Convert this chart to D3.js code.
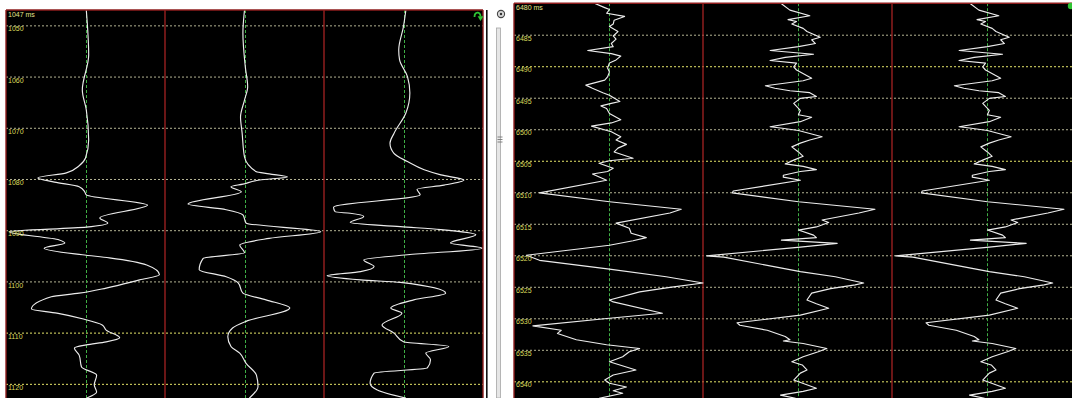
<!DOCTYPE html>
<html>
<head>
<meta charset="utf-8">
<script src="https://cdn.jsdelivr.net/npm/d3@7"></script>
<style>
  html, body { margin: 0; padding: 0; background: #fff; overflow: hidden; }
  svg { display: block; }
</style>
</head>
<body>
<svg id="view" width="1072" height="398"></svg>
<script>
// ---- Trace data: [time in ms, normalised amplitude] ----
// Window 1 (1047 ms onwards), three traces
const traceA1 = [[1047.0,0.01],[1055.8,0.04],[1062.6,-0.04],[1066.5,0.01],[1072.4,0.04],[1075.9,0],[1077.4,-0.08],[1078.8,-0.24],[1079.8,-0.60],[1080.6,-0.39],[1081.5,-0.08],[1082.5,-0.01],[1083.1,0.01],[1085.1,0.78],[1087.6,0.18],[1088.6,0.28],[1089.4,0.01],[1090.3,-0.96],[1091.9,-0.33],[1092.5,-0.26],[1093.5,-0.52],[1094.8,-0.04],[1095.4,0.30],[1096.8,0.77],[1098.7,0.93],[1099.7,0.68],[1101.3,0.26],[1102.3,-0.08],[1103.0,-0.43],[1105.4,-0.68],[1106.2,-0.36],[1107.3,-0.04],[1108.5,0.21],[1109.5,0.26],[1111.0,0.43],[1111.8,0.26],[1112.4,0.01],[1113.0,-0.14],[1114.4,-0.08],[1116.7,-0.05],[1118.3,0.14],[1120.2,0.11],[1121.6,0.14],[1122.8,0.01]];
const traceA2 = [[1047.0,0],[1051.5,-0.02],[1058.1,0.01],[1062.0,0.04],[1064.6,0],[1067.9,-0.05],[1071.0,-0.03],[1075.7,0],[1078.6,0.15],[1079.0,0.31],[1079.6,0.54],[1080.2,0.19],[1081.0,-0.02],[1081.5,-0.17],[1082.5,-0.04],[1084.9,-0.71],[1086.0,-0.23],[1087.0,-0.02],[1088.6,0.02],[1090.3,0.96],[1091.6,0.31],[1092.9,-0.06],[1094.4,0],[1095.5,-0.52],[1097.7,-0.57],[1099.1,-0.23],[1100.3,-0.08],[1102.3,-0.02],[1103.6,0.27],[1105.2,0.57],[1107.8,0.02],[1109.1,-0.15],[1110.8,-0.21],[1112.7,-0.17],[1114.0,-0.06],[1116.0,0.02],[1118.3,0.15],[1120.5,0.17],[1122.8,0.06]];
const traceA3 = [[1047.0,0.03],[1050.2,0],[1054.8,-0.06],[1056.7,-0.05],[1060.0,0.05],[1063.2,0.08],[1067.1,0.03],[1071.1,-0.12],[1073.0,-0.17],[1075.0,-0.12],[1076.6,0.05],[1078.2,0.26],[1079.2,0.47],[1080.2,0.76],[1081.2,0.51],[1082.0,0.17],[1083.1,0.21],[1085.5,-0.88],[1086.4,-0.86],[1086.7,-0.67],[1087.3,-0.50],[1088.5,-0.67],[1089.3,-0.04],[1089.9,0.47],[1090.9,0.91],[1092.5,0.59],[1093.5,0.99],[1094.8,0.05],[1095.8,-0.50],[1097.1,-0.37],[1098.1,-0.54],[1098.9,-0.96],[1099.7,-0.54],[1100.2,-0.04],[1102.3,0.53],[1103.6,0.13],[1105.2,-0.16],[1106.2,-0.02],[1108.5,-0.27],[1110.1,-0.12],[1111.8,0],[1112.7,0.57],[1114.0,0.28],[1115.3,0.34],[1116.9,0.30],[1117.9,-0.37],[1119.9,-0.42],[1121.2,-0.33],[1122.8,0.03]];

// Window 2 (6480 ms onwards); second and third traces carry the same samples
const traceB1 = [[6480.0,-0.15],[6480.7,-0.04],[6481.0,0.01],[6481.6,-0.02],[6482.1,0.17],[6482.7,0.06],[6483.3,0.05],[6483.7,0.01],[6484.5,0.10],[6485.2,0.05],[6485.7,0.08],[6486.4,0.03],[6486.9,0.05],[6487.5,-0.22],[6488.0,0.03],[6488.4,0.13],[6489.0,0.08],[6489.5,0.01],[6490.3,-0.01],[6490.9,0.01],[6491.7,-0.01],[6492.2,-0.04],[6493.0,-0.24],[6493.5,-0.17],[6494.2,-0.06],[6494.6,0.01],[6495.6,0.12],[6495.9,0.03],[6496.3,-0.08],[6496.7,-0.02],[6497.5,0.01],[6498.5,0.13],[6499.0,0.03],[6499.5,-0.18],[6500.4,0.03],[6501.2,0.13],[6501.7,0.08],[6502.4,0.19],[6503.0,0.10],[6503.6,0.06],[6504.6,0.26],[6505.0,0.01],[6505.4,-0.10],[6506.2,0.05],[6506.7,-0.01],[6507.1,-0.17],[6508.1,-0.02],[6510.1,-0.73],[6511.5,0.01],[6512.7,0.77],[6513.3,0.65],[6514.9,0.08],[6515.7,0.22],[6516.5,0.24],[6517.2,0.40],[6517.7,0.26],[6518.4,0.01],[6520.0,-0.87],[6520.8,-0.73],[6522.2,0.01],[6523.4,0.61],[6524.4,1.00],[6525.1,0.65],[6525.8,0.33],[6527.1,0.01],[6527.4,0.05],[6529.2,0.57],[6530.0,0.01],[6531.2,-0.80],[6531.9,-0.50],[6532.4,-0.54],[6533.4,-0.34],[6534.2,-0.02],[6534.8,0.33],[6535.3,0.22],[6536.1,0.15],[6536.9,0.01],[6538.2,0.29],[6539.0,0.05],[6539.8,-0.04],[6540.3,0.01],[6540.9,0.19],[6541.5,0.05],[6541.9,0.15],[6542.7,-0.10]];
const traceB2 = [[6480.1,-0.17],[6481.1,-0.08],[6482.0,0.13],[6482.6,-0.10],[6482.9,-0.01],[6483.3,-0.06],[6484.0,0.06],[6484.5,0.10],[6485.4,0.24],[6485.8,0.15],[6486.4,0.19],[6486.9,0.01],[6487.5,-0.29],[6488.1,0.17],[6488.6,-0.13],[6489.1,-0.29],[6489.5,-0.01],[6490.1,-0.04],[6490.6,-0.01],[6491.9,0.15],[6492.3,0.06],[6493.1,-0.34],[6493.5,-0.24],[6493.9,-0.08],[6494.2,0.13],[6494.8,0.20],[6495.1,0.03],[6495.9,-0.04],[6497.0,0.03],[6497.7,0.01],[6498.1,0.15],[6498.8,0.03],[6499.6,-0.29],[6499.8,-0.18],[6500.2,0.01],[6501.2,0.26],[6501.7,0.13],[6502.2,0.03],[6502.8,-0.06],[6503.6,0.01],[6504.3,0.06],[6504.9,-0.04],[6505.5,-0.13],[6505.9,0.06],[6506.4,0.20],[6506.7,0.03],[6507.3,-0.15],[6507.6,-0.15],[6508.1,0.03],[6509.8,-0.68],[6510.1,-0.69],[6511.5,0.01],[6512.7,0.82],[6513.3,0.65],[6514.4,0.26],[6514.8,0.33],[6515.5,0.20],[6516.0,0.01],[6516.8,0.17],[6517.2,0.20],[6517.6,-0.17],[6518.1,0.42],[6518.7,0.03],[6520.1,-0.96],[6520.3,-0.78],[6521.8,-0.25],[6522.6,0.03],[6523.4,0.40],[6524.4,0.70],[6524.7,0.61],[6525.3,0.35],[6526.0,0.15],[6527.1,0.10],[6527.7,0.20],[6528.4,0.33],[6529.5,0.03],[6530.7,-0.64],[6531.1,-0.61],[6531.9,-0.32],[6532.9,-0.13],[6533.4,-0.08],[6533.6,-0.15],[6534.0,0.06],[6534.8,0.31],[6535.3,0.22],[6536.1,0.06],[6536.9,-0.06],[6537.4,0.05],[6538.2,0.10],[6538.7,0.03],[6539.8,-0.04],[6541.1,0.20],[6541.6,0.06],[6542.2,-0.18],[6542.7,-0.02]];

// Time tick labels
const ticksA = [1050, 1060, 1070, 1080, 1090, 1100, 1110, 1120];
const ticksB = [6485, 6490, 6495, 6500, 6505, 6510, 6515, 6520, 6525, 6530, 6535, 6540];
const startA = 1047;
const startB = 6480;

// ---- Layout ----
const W = 1072, H = 398;
const svg = d3.select("#view");

const panels = [
  { id: "a", x0: 6,   y0: 10,  traceW: 159, t0: startA, msPx: 5.121,
    traces: [traceA1, traceA2, traceA3], ticks: ticksA, bright: [1110, 1120],
    header: startA + " ms", headerY: 16.5, curve: d3.curveMonotoneY, rightBorder: true },
  { id: "b", x0: 514, y0: 3.2, traceW: 189, t0: startB, msPx: 6.302,
    traces: [traceB1, traceB2, traceB2], ticks: ticksB, bright: [6490, 6505, 6540],
    header: startB + " ms", headerY: 9.5, curve: d3.curveLinear, rightBorder: false }
];

const RED = "#a52222", BORDER = "#8e1d1d";

panels.forEach(p => {
  const w = p.traceW * p.traces.length;
  const y = d3.scaleLinear()
    .domain([p.t0, p.t0 + (H - p.y0) / p.msPx])
    .range([p.y0, H]);

  svg.append("clipPath").attr("id", "clip-" + p.id)
    .append("rect").attr("x", p.x0).attr("y", p.y0).attr("width", w).attr("height", H - p.y0);

  const g = svg.append("g").attr("clip-path", `url(#clip-${p.id})`);
  g.append("rect").attr("x", p.x0).attr("y", p.y0).attr("width", w).attr("height", H - p.y0)
    .attr("fill", "#000");

  // horizontal time grid, from a right-facing axis whose ticks span the panel
  const axis = d3.axisRight(y).tickValues(p.ticks).tickSize(w).tickFormat(d3.format("d"));
  const ax = g.append("g").attr("transform", `translate(${p.x0},0)`).call(axis);
  ax.select(".domain").remove();
  ax.selectAll(".tick line")
    .attr("stroke", d => p.bright.includes(d) ? "#e6e66a" : "#b4b494")
    .attr("stroke-width", 1)
    .attr("stroke-dasharray", "2,2");
  ax.selectAll(".tick text").remove();

  // trace baselines and trace separators
  p.traces.forEach((tr, i) => {
    const cx = Math.round(p.x0 + p.traceW * (i + 0.5)) + 0.5;
    g.append("line").attr("x1", cx).attr("x2", cx).attr("y1", p.y0).attr("y2", H)
      .attr("stroke", "#3fae45").attr("stroke-width", 1).attr("stroke-dasharray", "3,2");
    if (i > 0) {
      const sx = p.x0 + p.traceW * i;
      g.append("line").attr("x1", sx).attr("x2", sx).attr("y1", p.y0).attr("y2", H)
        .attr("stroke", RED).attr("stroke-width", 1.3);
    }
  });

  // wiggle traces
  p.traces.forEach((tr, i) => {
    const cx = p.x0 + p.traceW * (i + 0.5);
    const x = d3.scaleLinear().domain([-1, 1]).range([cx - p.traceW / 2, cx + p.traceW / 2]);
    const line = d3.line().x(d => x(d[1])).y(d => y(d[0])).curve(p.curve);
    g.append("path").datum(tr).attr("d", line)
      .attr("fill", "none").attr("stroke", "#ececec").attr("stroke-width", 1.15)
      .attr("stroke-linejoin", "round");
  });

  // tick labels on top
  const lab = d3.axisRight(y).tickValues(p.ticks).tickSize(0).tickPadding(2)
    .tickFormat(d3.format("d"));
  const lx = svg.append("g").attr("transform", `translate(${p.x0},0)`).call(lab);
  lx.select(".domain").remove();
  lx.selectAll(".tick text")
    .attr("fill", "#dcdc5c").attr("dy", "5.6px")
    .style("font", "7px 'Liberation Sans', Arial, sans-serif");

  svg.append("text").attr("x", p.x0 + 2).attr("y", p.headerY).text(p.header)
    .attr("fill", "#e2e28a").style("font", "7px 'Liberation Sans', Arial, sans-serif");

  // frame
  svg.append("line").attr("x1", p.x0).attr("x2", p.x0 + w).attr("y1", p.y0).attr("y2", p.y0)
    .attr("stroke", BORDER).attr("stroke-width", 1.4);
  svg.append("line").attr("x1", p.x0).attr("x2", p.x0).attr("y1", p.y0).attr("y2", H)
    .attr("stroke", BORDER).attr("stroke-width", 1.4);
  if (p.rightBorder) {
    svg.append("line").attr("x1", p.x0 + w).attr("x2", p.x0 + w).attr("y1", p.y0).attr("y2", H)
      .attr("stroke", BORDER).attr("stroke-width", 1.4);
  }
});

// ---- window chrome between the two views ----
svg.append("rect").attr("x", 486).attr("y", 10).attr("width", 1.6).attr("height", H - 10).attr("fill", "#111");
svg.append("rect").attr("x", 496.5).attr("y", 28).attr("width", 4).attr("height", H - 28)
  .attr("fill", "#e6e6e6").attr("stroke", "#a6a6a6").attr("stroke-width", 0.8);
[137, 139.5, 142].forEach(yy =>
  svg.append("line").attr("x1", 497.5).attr("x2", 502.5).attr("y1", yy).attr("y2", yy)
    .attr("stroke", "#777").attr("stroke-width", 0.9));
svg.append("circle").attr("cx", 501).attr("cy", 14).attr("r", 3.6)
  .attr("fill", "#d8d8d8").attr("stroke", "#444").attr("stroke-width", 1.1);
svg.append("circle").attr("cx", 501).attr("cy", 14).attr("r", 1.2).attr("fill", "#333");

// green curved arrow in the first view's corner
svg.append("path").attr("d", "M474.5,17 C474.5,11.5 480.5,11 480.5,16.5")
  .attr("fill", "none").attr("stroke", "#2fc433").attr("stroke-width", 1.8);
svg.append("path").attr("d", "M477.6,16.2 L483.4,16.2 L480.5,21 Z").attr("fill", "#2fc433");
// green marker in the second view's corner
svg.append("circle").attr("cx", 1071).attr("cy", 6).attr("r", 3.2).attr("fill", "#2fc433");
</script>
</body>
</html>
